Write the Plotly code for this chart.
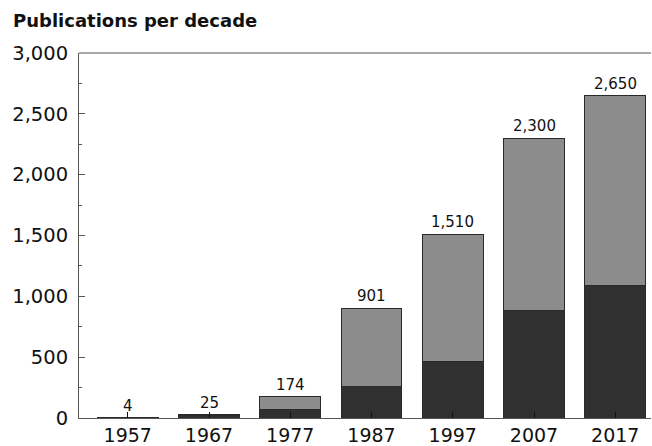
import plotly.graph_objects as go

decades = ["1957", "1967", "1977", "1987", "1997", "2007", "2017"]
totals = [4, 25, 174, 901, 1510, 2300, 2650]
dark_part = [2, 20, 66, 263, 468, 882, 1085]
total_labels = ["4", "25", "174", "901", "1,510", "2,300", "2,650"]
y_ticks = [0, 500, 1000, 1500, 2000, 2500, 3000]
y_tick_labels = ["0", "500", "1,000", "1,500", "2,000", "2,500", "3,000"]

gray_part = [t - d for t, d in zip(totals, dark_part)]

FONT = "DejaVu Sans, Liberation Sans, Arial, sans-serif"

fig = go.Figure()
fig.add_trace(go.Bar(x=decades, y=dark_part, marker=dict(color="#303030", line=dict(color="#2a2a2a", width=1)), showlegend=False, hoverinfo="skip"))
fig.add_trace(go.Bar(x=decades, y=gray_part, marker=dict(color="#8c8c8c", line=dict(color="#2a2a2a", width=1)), showlegend=False, hoverinfo="skip"))

for i, (t, lab) in enumerate(zip(totals, total_labels)):
    fig.add_annotation(x=i, y=t, text=lab, showarrow=False, yanchor="bottom", yshift=1,
                       font=dict(family=FONT, size=15, color="#111"))

# top frame line (no right border: chart is cut at right edge)
fig.add_shape(type="line", xref="paper", yref="paper", x0=0, x1=1, y0=1, y1=1,
              line=dict(color="#555", width=1))

fig.update_layout(
    width=652, height=446,
    barmode="stack", bargap=0.255,
    plot_bgcolor="white", paper_bgcolor="white",
    margin=dict(l=79, r=1, t=53, b=28),
    title=dict(text="<b>Publications per decade</b>", x=13/652, xanchor="left", xref="container",
               y=1-21/446, yref="container", yanchor="middle",
               font=dict(family=FONT, size=18, color="#111")),
    xaxis=dict(type="category", range=[-0.6, 6.44], showline=True, linecolor="#555", linewidth=1,
               ticks="inside", ticklen=6, tickcolor="#111", tickwidth=1,
               showgrid=False, zeroline=False, automargin=False,
               tickfont=dict(family=FONT, size=19, color="#111"), ticklabelstandoff=0),
    yaxis=dict(range=[0, 3000], showline=True, linecolor="#555", linewidth=1,
               tickvals=y_ticks, ticktext=y_tick_labels,
               ticks="inside", ticklen=6, tickcolor="#555",
               minor=dict(ticks="inside", ticklen=3, dtick=250, tickcolor="#555", showgrid=False),
               showgrid=False, zeroline=False, automargin=False,
               tickfont=dict(family=FONT, size=19.5, color="#111"), ticklabelstandoff=6),
)

fig.write_html("out.html", config={"displayModeBar": False},
               post_script="document.body.style.margin='0';")
